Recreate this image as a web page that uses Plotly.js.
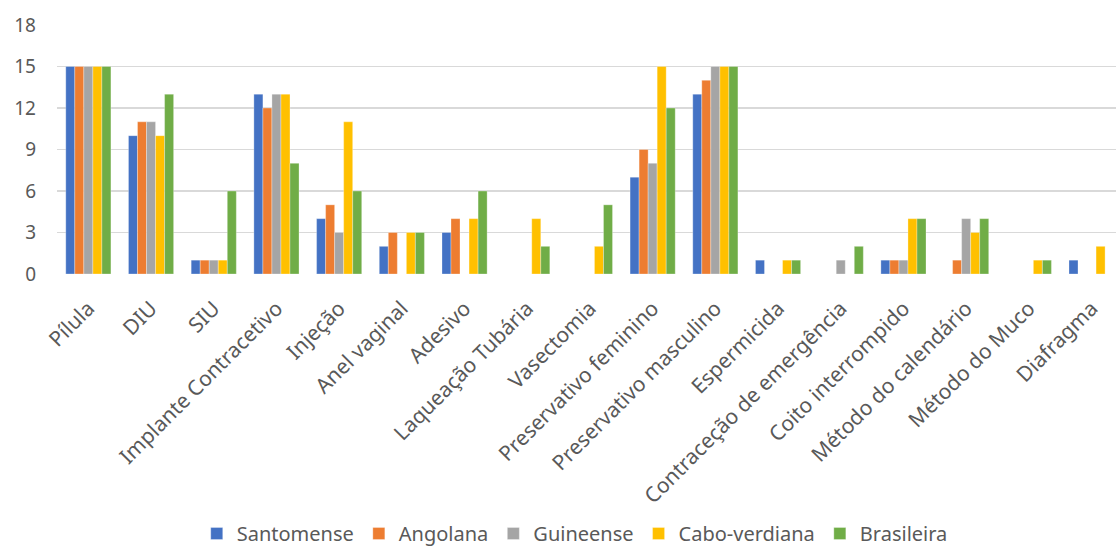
<!DOCTYPE html>
<html>
<head>
<meta charset="utf-8">
<script src="https://cdn.plot.ly/plotly-3.0.1.min.js"></script>
<style>html,body{margin:0;padding:0;background:#fff;}#chart{width:1116px;height:553px;}</style>
</head>
<body>
<div id="chart"></div>
<script>
const categories = ["Pílula","DIU","SIU","Implante Contracetivo","Injeção","Anel vaginal","Adesivo","Laqueação Tubária","Vasectomia","Preservativo feminino","Preservativo masculino","Espermicida","Contraceção de emergência","Coito interrompido","Método do calendário","Método do Muco","Diafragma"];
const santomense   = [15,10,1,13,4,2,3,0,0,7,13,1,0,1,0,0,1];
const angolana     = [15,11,1,12,5,3,4,0,0,9,14,0,0,1,1,0,0];
const guineense    = [15,11,1,13,3,0,0,0,0,8,15,0,1,1,4,0,0];
const caboverdiana = [15,10,1,13,11,3,4,4,2,15,15,1,0,4,3,1,2];
const brasileira   = [15,13,6,8,6,3,6,2,5,12,15,1,2,4,4,1,0];
const seriesNames = ["Santomense","Angolana","Guineense","Cabo-verdiana","Brasileira"];
const seriesValues = [santomense, angolana, guineense, caboverdiana, brasileira];
const colors = ["#4472C4","#ED7D31","#A5A5A5","#FFC000","#70AD47"];
const yTicks = [0,3,6,9,12,15,18];

const traces = seriesNames.map((n,i)=>({
  type:'bar', name:n, x:categories, y:seriesValues[i],
  marker:{color:colors[i], line:{color:'rgba(255,255,255,0.6)', width:0.5}},
  hoverinfo:'x+y+name'
}));

const font = "'Noto Sans', 'Open Sans', sans-serif";
const layout = {
  width:1116, height:553,
  margin:{l:57, r:0, t:25, b:279},
  paper_bgcolor:'#fff', plot_bgcolor:'#fff',
  barmode:'group', bargap:0.28, bargroupgap:0,
  font:{family:font, color:'#595959', size:18},
  xaxis:{
    type:'category', range:[-0.5,16.39], tickangle:-45,
    showgrid:false, zeroline:false, showline:false, ticks:'',
    ticklabelstandoff:17,
    tickfont:{size:21, color:'#595959', family:font}
  },
  yaxis:{
    range:[0,18], tickvals:yTicks, ticktext:yTicks.map(String),
    showgrid:true, gridcolor:'#D9D9D9', gridwidth:1.3, zeroline:false,
    showline:false, ticks:'', ticklabelstandoff:20,
    tickfont:{size:19, color:'#595959', family:font}
  },
  showlegend:true,
  legend:{orientation:'h', xref:'container', yref:'container', x:0.515, xanchor:'center', y:0, yanchor:'bottom',
    font:{size:20, color:'#595959', family:font}, itemwidth:30, traceorder:'normal'}
};
Plotly.newPlot('chart', traces, layout, {displayModeBar:false, staticPlot:true});
</script>
</body>
</html>
